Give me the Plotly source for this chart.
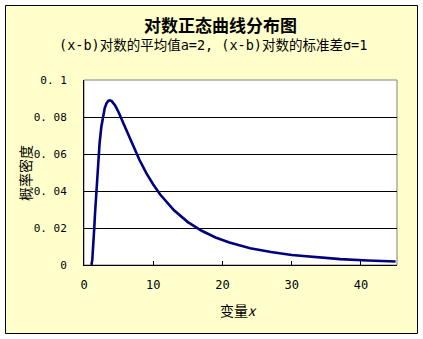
import plotly.graph_objects as go

# Values (x = variable, y = probability density)
x_vals = [1.0, 1.1, 1.2, 1.3, 1.4, 1.5, 1.6, 1.8, 2.0, 2.25, 2.5, 2.75, 3.0, 3.25, 3.5,
          3.75, 4.0, 4.5, 5.0, 6.0, 7.0, 8.0, 9.0, 10.0, 11.0, 13.0, 15.0, 17.0, 19.0,
          21.0, 24.0, 27.0, 30.0, 33.0, 37.0, 41.0, 45.0]
y_vals = [0.0, 0.0004, 0.003, 0.0078, 0.0142, 0.0212, 0.0284, 0.0421, 0.0540, 0.0658,
          0.0746, 0.0808, 0.0849, 0.0874, 0.0887, 0.0890, 0.0886, 0.0862, 0.0826, 0.0739,
          0.0651, 0.0569, 0.0497, 0.0435, 0.0381, 0.0296, 0.0232, 0.0185, 0.0149, 0.0122,
          0.0091, 0.0070, 0.0054, 0.0043, 0.0032, 0.0024, 0.0019]

x_ticks = [0, 10, 20, 30, 40]
y_ticks = [0, 0.02, 0.04, 0.06, 0.08, 0.1]
y_tick_text = ["0", "0. 02", "0. 04", "0. 06", "0. 08", "0. 1"]

title_text = "对数正态曲线分布图"
subtitle_text = "(x-b)对数的平均值a=2, (x-b)对数的标准差σ=1"
x_title = "变量<i>x</i>"
y_title = "概率密度"

W, H = 423, 339
L, R, T, B = 84, 26, 80, 74
PW, PH = W - L - R, H - T - B
mono = "DejaVu Sans Mono, Noto Sans CJK SC"
cjk = "Noto Sans CJK SC"

fig = go.Figure()
fig.add_trace(go.Scatter(x=x_vals, y=y_vals, mode="lines",
                         line=dict(color="#000080", width=2.6), hoverinfo="skip"))

def px(xp):
    return (xp - L) / PW

def py(yp):
    return (H - B - yp) / PH

shapes = [
    dict(type="rect", xref="paper", yref="paper", x0=px(5.5), x1=px(417.5), y0=py(333.5), y1=py(5.5),
         fillcolor="#FFFFCC", line=dict(color="black", width=1), layer="below"),
    dict(type="rect", xref="paper", yref="paper", x0=0, x1=1, y0=0, y1=1,
         fillcolor="white", line=dict(color="#808080", width=1), layer="below"),
]

fig.update_layout(
    width=W, height=H,
    margin=dict(l=L, r=R, t=T, b=B),
    paper_bgcolor="white", plot_bgcolor="white",
    showlegend=False,
    shapes=shapes,
    xaxis=dict(range=[0, 45.2], tickvals=x_ticks, ticks="inside", ticklen=4, tickcolor="black",
               showline=True, linecolor="black", linewidth=1, showgrid=False, zeroline=False,
               tickfont=dict(family=mono, size=12, color="black"), ticklabelstandoff=9),
    yaxis=dict(range=[0, 0.1], tickvals=y_ticks, ticktext=y_tick_text, ticks="",
               showline=True, linecolor="black", linewidth=1, showgrid=True, gridcolor="black",
               gridwidth=1, zeroline=False,
               tickfont=dict(family=mono, size=11, color="black"), ticklabelstandoff=14),
    annotations=[
        dict(text="<b>" + title_text + "</b>", xref="paper", yref="paper", x=px(220), y=py(25),
             xanchor="center", yanchor="middle", showarrow=False,
             font=dict(family=cjk, size=17, color="black")),
        dict(text=subtitle_text, xref="paper", yref="paper", x=px(213), y=py(45),
             xanchor="center", yanchor="middle", showarrow=False,
             font=dict(family=mono, size=13.5, color="black")),
        dict(text=x_title, xref="paper", yref="paper", x=px(238), y=py(310),
             xanchor="center", yanchor="middle", showarrow=False,
             font=dict(family=cjk, size=14, color="black")),
        dict(text=y_title, xref="paper", yref="paper", x=px(25), y=py(173),
             xanchor="center", yanchor="middle", showarrow=False, textangle=-90,
             font=dict(family=cjk, size=14, color="black")),
    ],
)

fig.write_html("out.html")
